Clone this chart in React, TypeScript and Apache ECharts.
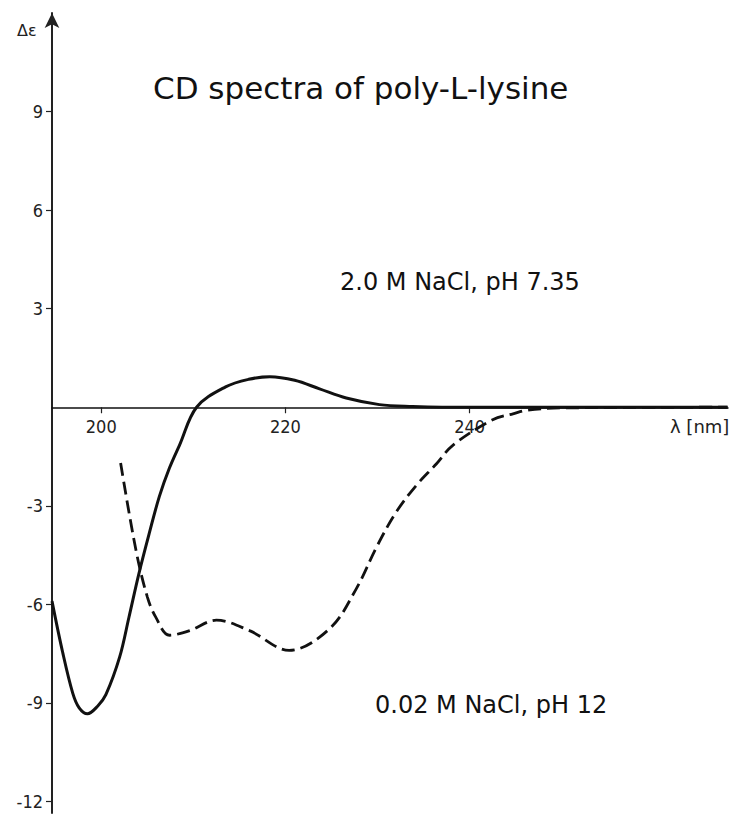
import React, { useEffect, useRef } from "react";
import * as echarts from "echarts";

// Wavelength (nm) and Δε for the solid curve (2.0 M NaCl, pH 7.35)
const solidLambda = [194.65, 195.8, 196.9, 197.6, 198.5, 199.6, 200.5, 202.0, 203.0, 204.1, 205.2, 206.3, 207.4, 208.5, 210.35, 213.5, 216.0, 218.3, 221.0, 223.7, 226.6, 230.2, 233.8, 237.0, 268.0];
const solidEps = [-5.9, -7.45, -8.7, -9.15, -9.33, -9.1, -8.75, -7.6, -6.4, -5.05, -3.85, -2.72, -1.85, -1.15, 0, 0.62, 0.85, 0.93, 0.82, 0.56, 0.28, 0.08, 0.02, 0, 0];

// Wavelength (nm) and Δε for the dashed curve (0.02 M NaCl, pH 12)
const dashLambda = [202.1, 203.8, 205.0, 205.9, 207.4, 209.6, 212.5, 216.1, 220.4, 224.8, 227.7, 229.9, 232.0, 234.2, 236.4, 238.2, 242.5, 244.7, 246.2, 250.0, 268.0];
const dashEps = [-1.7, -4.4, -5.77, -6.38, -6.94, -6.8, -6.48, -6.8, -7.4, -6.74, -5.52, -4.25, -3.2, -2.38, -1.72, -1.15, -0.38, -0.2, -0.09, -0.02, 0];

const xTicks = [200, 220, 240];
const yTicks = [-12, -9, -6, -3, 3, 6, 9];

const title = "CD spectra of poly-L-lysine";
const label1 = "2.0 M NaCl, pH 7.35";
const label2 = "0.02 M NaCl, pH 12";

const Y_MIN = -12.35;
const Y_MAX = 12;
const GRID_TOP = 13;
const GRID_BOTTOM = 2;
const CHART_H = 815;

export default function App() {
  const ref = useRef<HTMLDivElement>(null);
  useEffect(() => {
    if (!ref.current) return;
    const chart = echarts.init(ref.current, null, { renderer: "svg" });
    const solid = solidLambda.map((l, i) => [l, solidEps[i]]);
    const dashed = dashLambda.map((l, i) => [l, dashEps[i]]);
    const font = "DejaVu Sans";
    const gridH = CHART_H - GRID_TOP - GRID_BOTTOM;
    // distance from grid bottom up to the zero line
    const zeroOffset = (-Y_MIN / (Y_MAX - Y_MIN)) * gridH;
    chart.setOption({
      animation: false,
      backgroundColor: "#fff",
      grid: { left: 52, right: 4, top: GRID_TOP, bottom: GRID_BOTTOM, containLabel: false, outerBoundsMode: "none" },
      xAxis: {
        type: "value",
        min: 194.65,
        max: 268.05,
        position: "bottom",
        offset: -zeroOffset,
        axisLine: { show: true, onZero: false, lineStyle: { color: "#111", width: 1.5 } },
        axisTick: { show: true, length: 6, inside: false, customValues: xTicks, lineStyle: { color: "#222", width: 1.2 } },
        axisLabel: {
          show: true,
          customValues: xTicks,
          margin: 10,
          color: "#222",
          fontFamily: "DejaVu Sans Condensed",
          fontSize: 18,
        },
        splitLine: { show: false },
      },
      yAxis: {
        type: "value",
        min: Y_MIN,
        max: Y_MAX,
        axisLine: {
          show: true,
          lineStyle: { color: "#222", width: 2 },
          symbol: ["none", "arrow"],
          symbolSize: [11, 15],
        },
        axisTick: { show: true, length: 6, customValues: yTicks, lineStyle: { color: "#222", width: 1.2 } },
        axisLabel: {
          show: true,
          customValues: yTicks,
          margin: 9,
          color: "#222",
          fontFamily: "DejaVu Sans Condensed",
          fontSize: 18,
        },
        splitLine: { show: false },
      },
      series: [
        {
          type: "line",
          data: solid,
          smooth: 0.35,
          symbol: "none",
          lineStyle: { color: "#111", width: 3 },
        },
        {
          type: "line",
          data: dashed,
          smooth: 0.35,
          symbol: "none",
          lineStyle: { color: "#111", width: 2.8, type: [13, 6] },
        },
      ],
      graphic: [
        { type: "text", left: 153, top: 72, style: { text: title, font: `31px '${font}'`, fill: "#111" } },
        { type: "text", left: 340, top: 270, style: { text: label1, font: `24px '${font}'`, fill: "#111" } },
        { type: "text", left: 375, top: 693, style: { text: label2, font: `24px '${font}'`, fill: "#111" } },
        { type: "text", left: 17, top: 22, style: { text: "Δε", font: `16px '${font}'`, fill: "#222" } },
        { type: "text", left: 670, top: 417, style: { text: "λ [nm]", font: `18px '${font}'`, fill: "#222" } },
      ],
    });
    return () => chart.dispose();
  }, []);
  return (
    <div
      ref={ref}
      style={{ position: "absolute", left: 0, top: 0, width: 732, height: 815 }}
    />
  );
}
